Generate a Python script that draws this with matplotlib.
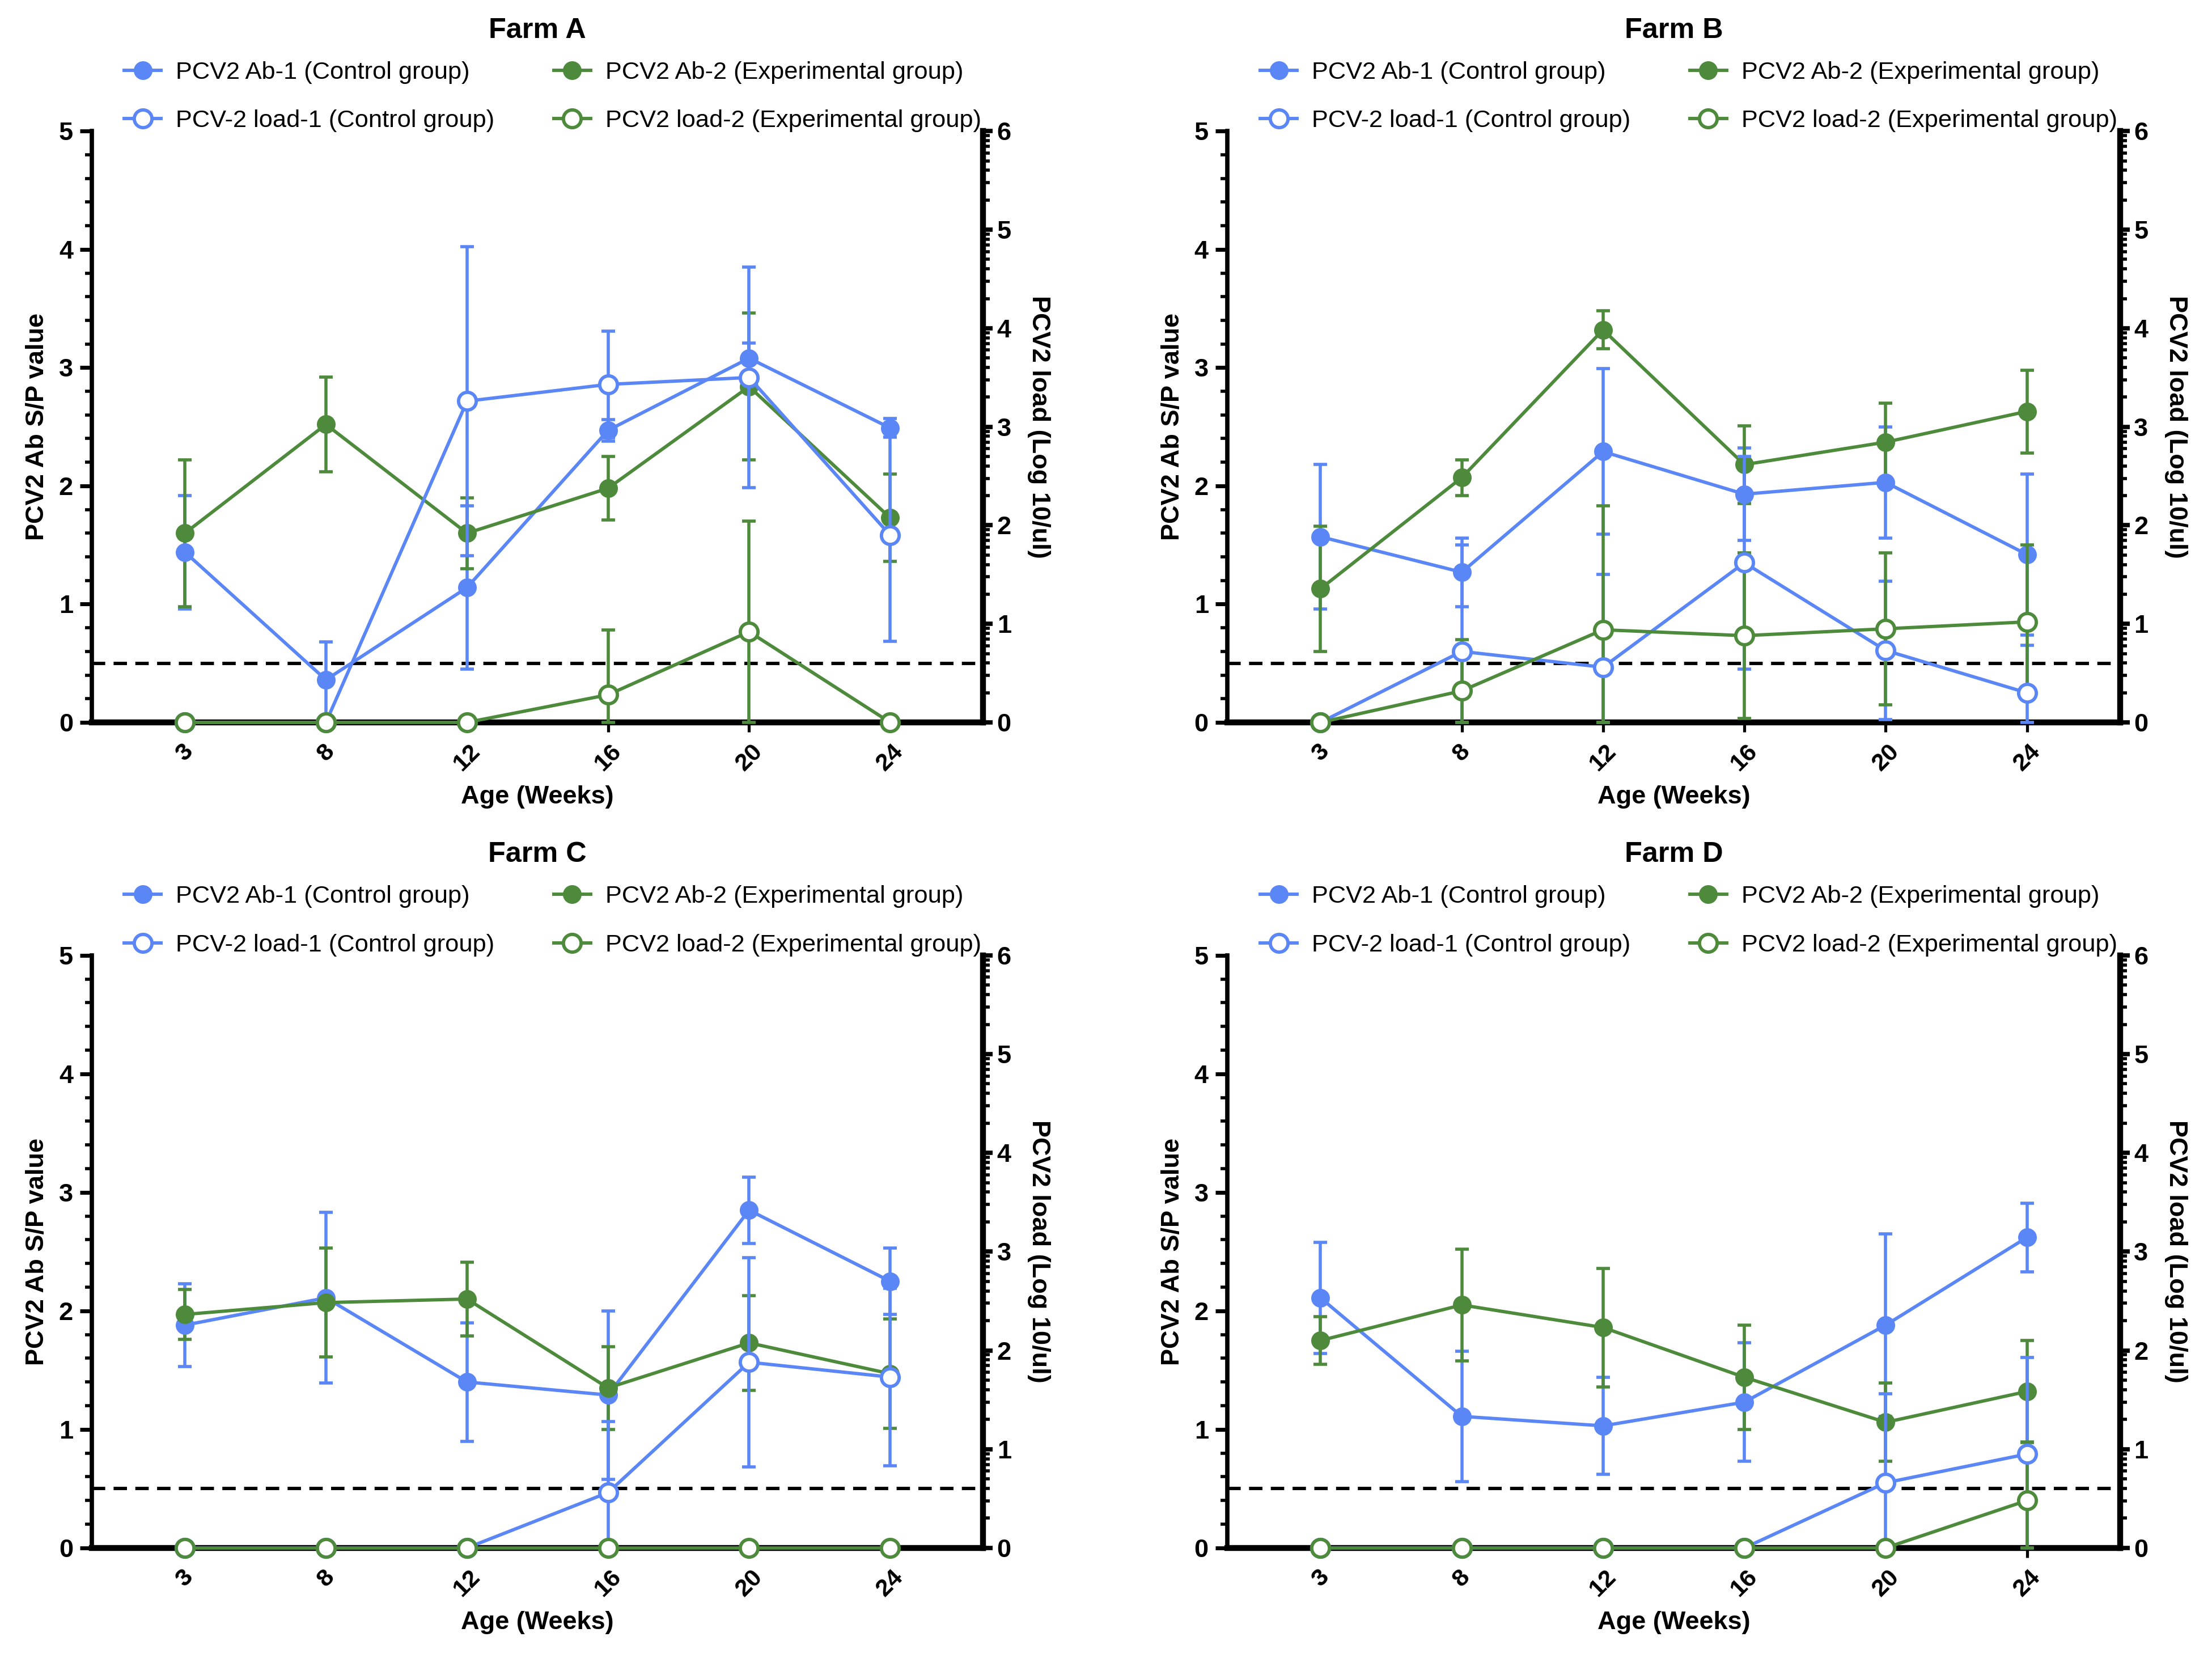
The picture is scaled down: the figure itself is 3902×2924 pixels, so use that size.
import matplotlib
matplotlib.use("Agg")
import matplotlib.pyplot as plt
import numpy as np

plt.rcParams['font.family'] = ['Liberation Sans', 'DejaVu Sans']

# x categories (weeks)
weeks = ["3", "8", "12", "16", "20", "24"]

# Farm A  (Ab in S/P, load in log10/ul)
a_ab1 = [1.44, 0.36, 1.14, 2.47, 3.08, 2.49]
a_ab1_err = [0.48, 0.32, 0.69, 0.09, 0.13, 0.08]
a_ab2 = [1.60, 2.52, 1.60, 1.98, 2.84, 1.73]
a_ab2_err = [0.62, 0.40, 0.30, 0.27, 0.62, 0.37]
a_load1 = [0, 0, 3.26, 3.43, 3.50, 1.90]
a_load1_err = [0, 0, 1.57, 0.54, 1.12, 1.08]
a_load2 = [0, 0, 0, 0.28, 0.92, 0]
a_load2_err = [0, 0, 0, 0.66, 1.12, 0]

# Farm B
b_ab1 = [1.57, 1.27, 2.29, 1.93, 2.03, 1.42]
b_ab1_err = [0.61, 0.29, 0.70, 0.39, 0.47, 0.68]
b_ab2 = [1.13, 2.07, 3.32, 2.18, 2.37, 2.63]
b_ab2_err = [0.53, 0.15, 0.16, 0.33, 0.33, 0.35]
b_load1 = [0, 0.72, 0.56, 1.62, 0.73, 0.30]
b_load1_err = [0, 1.08, 0.94, 1.08, 0.70, 0.48]
b_load2 = [0, 0.32, 0.94, 0.88, 0.95, 1.02]
b_load2_err = [0, 0.52, 1.26, 0.84, 0.77, 0.78]

# Farm C
c_ab1 = [1.88, 2.11, 1.40, 1.29, 2.85, 2.25]
c_ab1_err = [0.35, 0.72, 0.50, 0.71, 0.28, 0.28]
c_ab2 = [1.97, 2.07, 2.10, 1.35, 1.73, 1.47]
c_ab2_err = [0.21, 0.46, 0.31, 0.35, 0.40, 0.46]
c_load1 = [0, 0, 0, 0.56, 1.88, 1.73]
c_load1_err = [0, 0, 0, 0.72, 1.06, 0.90]
c_load2 = [0, 0, 0, 0, 0, 0]
c_load2_err = [0, 0, 0, 0, 0, 0]

# Farm D
d_ab1 = [2.11, 1.11, 1.03, 1.23, 1.88, 2.62]
d_ab1_err = [0.47, 0.55, 0.41, 0.50, 0.77, 0.29]
d_ab2 = [1.75, 2.05, 1.86, 1.44, 1.06, 1.32]
d_ab2_err = [0.20, 0.47, 0.50, 0.44, 0.33, 0.43]
d_load1 = [0, 0, 0, 0, 0.66, 0.95]
d_load1_err = [0, 0, 0, 0, 0.90, 0.98]
d_load2 = [0, 0, 0, 0, 0, 0.48]
d_load2_err = [0, 0, 0, 0, 0, 0.59]

cutoff = 0.5

blue = "#5b86f6"
green = "#4e8a3b"

labels = ["PCV2 Ab-1 (Control group)", "PCV-2 load-1 (Control group)",
          "PCV2 Ab-2 (Experimental group)", "PCV2 load-2 (Experimental group)"]


def series(ax, y, err, color, filled):
    x = np.arange(len(y))
    y = np.array(y, dtype=float)
    err = np.array(err, dtype=float)
    lower = np.minimum(err, y)  # bars stop at the axis
    ax.errorbar(x, y, yerr=[lower, err], fmt='none', ecolor=color,
                elinewidth=1.6, capsize=3.5, capthick=1.6, clip_on=False, zorder=3)
    if filled:
        h, = ax.plot(x, y, '-o', color=color, lw=1.7, ms=8.5, mfc=color,
                     mec=color, clip_on=False, zorder=4)
    else:
        h, = ax.plot(x, y, '-o', color=color, lw=1.7, ms=9, mfc='white',
                     mec=color, mew=1.7, clip_on=False, zorder=4)
    return h


def draw_farm(ax, title, ab1, ab1e, ab2, ab2e, l1, l1e, l2, l2e):
    ax2 = ax.twinx()
    ax.set_xlim(-0.66, 5.66)
    ax.set_ylim(0, 5)
    ax2.set_ylim(0, 6)

    ax.axhline(cutoff, color='black', lw=1.7, ls=(0, (4, 2.5)), zorder=2)

    h1 = series(ax, ab1, ab1e, blue, True)
    h3 = series(ax, ab2, ab2e, green, True)
    h2 = series(ax2, l1, l1e, blue, False)
    h4 = series(ax2, l2, l2e, green, False)

    for a in (ax, ax2):
        a.spines['top'].set_visible(False)
    ax.spines['right'].set_visible(False)
    ax2.spines['left'].set_visible(False)
    ax2.spines['bottom'].set_visible(False)
    ax.spines['left'].set_linewidth(2.2)
    ax.spines['bottom'].set_linewidth(3.0)
    ax2.spines['right'].set_linewidth(3.0)

    ax.set_xticks(np.arange(len(weeks)))
    ax.set_xticklabels(weeks, rotation=45, fontweight='bold', fontsize=12.5)
    ax.tick_params(axis='x', length=5, width=1.5, pad=4)

    ax.set_yticks(np.arange(0, 6, 1))
    ax.set_yticks(np.arange(0, 5.01, 0.2), minor=True)
    ax.tick_params(axis='y', which='major', length=6, width=2, labelsize=13)
    ax.tick_params(axis='y', which='minor', length=3.5, width=1.6)
    for t in ax.get_yticklabels():
        t.set_fontweight('bold')

    ax2.set_yticks(np.arange(0, 7, 1))
    minors = [n + np.log10(k) for n in range(6) for k in range(2, 10)]
    ax2.set_yticks(minors, minor=True)
    ax2.tick_params(axis='y', which='major', length=5, width=2.2, labelsize=13, pad=2)
    ax2.tick_params(axis='y', which='minor', length=3.5, width=1.6)
    for t in ax2.get_yticklabels():
        t.set_fontweight('bold')

    ax.set_ylabel("PCV2 Ab S/P value", fontweight='bold', fontsize=13, labelpad=5)
    ax2.set_ylabel("PCV2 load (Log 10/ul)", fontweight='bold', fontsize=13,
                   rotation=270, labelpad=20)
    ax.set_xlabel("Age (Weeks)", fontweight='bold', fontsize=13, labelpad=5)

    ax.text(0.5, 1.17, title, transform=ax.transAxes, ha='center', va='center',
            fontweight='bold', fontsize=14.5)
    ax2.legend([h1, h2, h3, h4], labels, ncol=2, loc='lower center',
               bbox_to_anchor=(0.517, 0.975), frameon=False, fontsize=12.5,
               handlelength=1.5, handletextpad=0.6, columnspacing=2.4,
               labelspacing=1.05, borderaxespad=0.15)


fig = plt.figure(figsize=(15.608, 11.696), dpi=250)
pos = {
    "A": [0.0415, 0.5643, 0.403, 0.3566],
    "B": [0.5548, 0.5643, 0.4037, 0.3566],
    "C": [0.0415, 0.0664, 0.403, 0.3574],
    "D": [0.5548, 0.0664, 0.4037, 0.3574],
}

axA = fig.add_axes(pos["A"])
draw_farm(axA, "Farm A", a_ab1, a_ab1_err, a_ab2, a_ab2_err, a_load1, a_load1_err, a_load2, a_load2_err)
axB = fig.add_axes(pos["B"])
draw_farm(axB, "Farm B", b_ab1, b_ab1_err, b_ab2, b_ab2_err, b_load1, b_load1_err, b_load2, b_load2_err)
axC = fig.add_axes(pos["C"])
draw_farm(axC, "Farm C", c_ab1, c_ab1_err, c_ab2, c_ab2_err, c_load1, c_load1_err, c_load2, c_load2_err)
axD = fig.add_axes(pos["D"])
draw_farm(axD, "Farm D", d_ab1, d_ab1_err, d_ab2, d_ab2_err, d_load1, d_load1_err, d_load2, d_load2_err)

fig.savefig("out.png", dpi=250)
